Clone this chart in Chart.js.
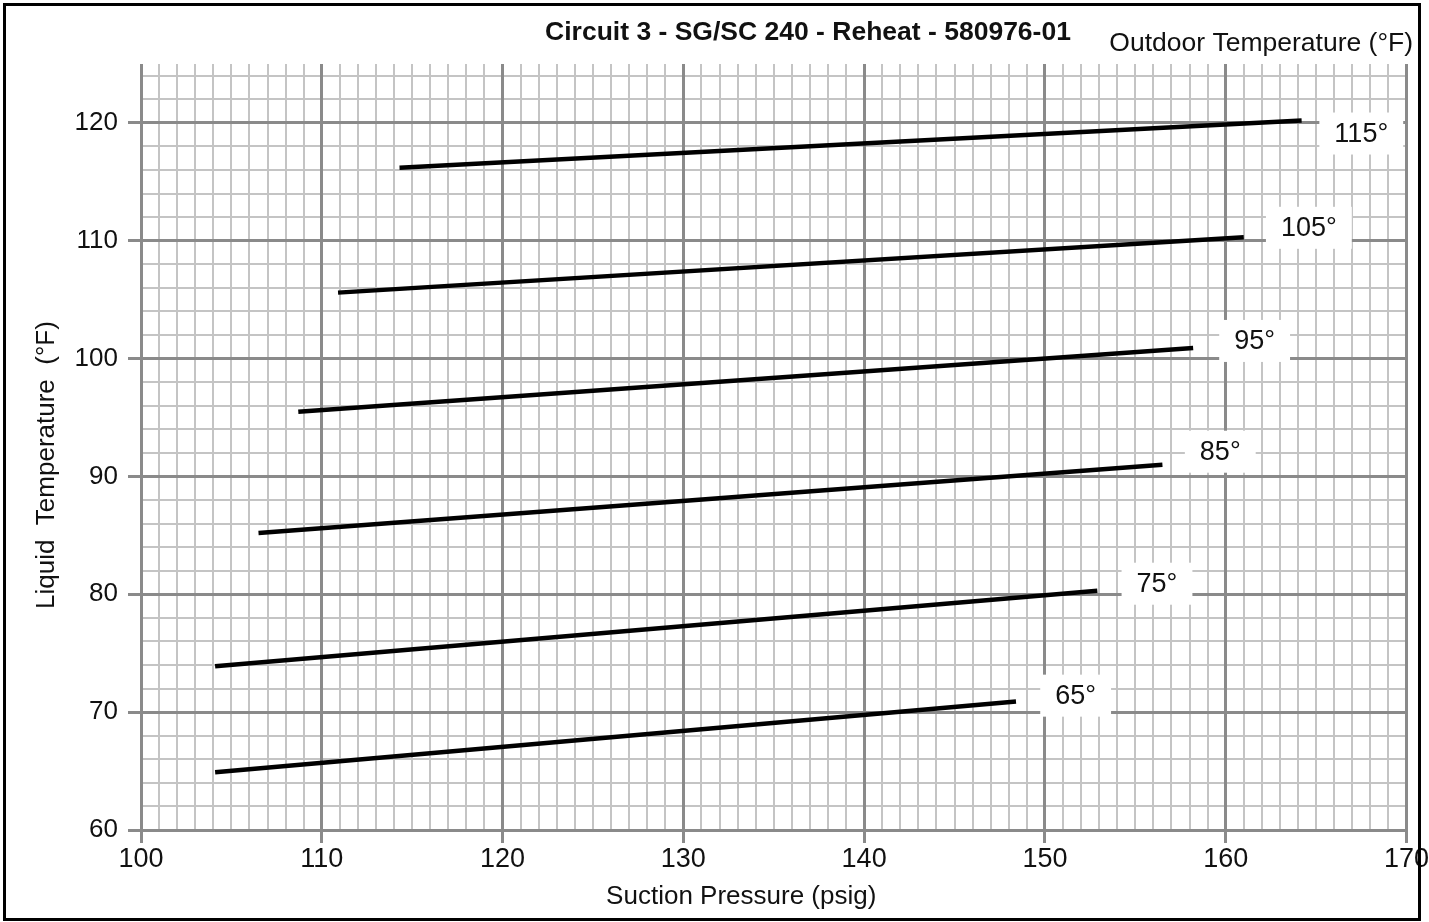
<!DOCTYPE html>
<html>
<head>
<meta charset="utf-8">
<script src="https://cdn.jsdelivr.net/npm/chart.js@4/dist/chart.umd.min.js"></script>
<style>
  html, body { margin: 0; padding: 0; background: #fff; }
  #wrap { width: 1429px; height: 922px; }
</style>
</head>
<body>
<div id="wrap"><canvas id="graficoCircuito"></canvas></div>
<script>
// Temperaturas exteriores (una linea por cada una)
const temperaturas = ['65°', '75°', '85°', '95°', '105°', '115°'];

// Presion de succion (psig) inicio / fin de cada linea
const presionInicio = [104.1, 104.1, 106.5, 108.7, 110.9, 114.3];
const presionFin    = [148.4, 152.9, 156.5, 158.2, 161.0, 164.2];

// Temperatura de liquido (°F) inicio / fin
const liquidoInicio = [64.9, 73.9, 85.2, 95.5, 105.6, 116.2];
const liquidoFin    = [70.9, 80.3, 91.0, 100.9, 110.3, 120.2];

// Posicion de las etiquetas (en unidades de datos)
const etiquetaX = [151.7, 156.2, 159.7, 161.6, 164.6, 167.5];
const etiquetaY = [71.4, 80.9, 92.1, 101.5, 111.1, 119.1];

const tituloGrafico = 'Circuit 3 - SG/SC 240 - Reheat - 580976-01';
const tituloLeyenda = 'Outdoor Temperature (°F)';

const fuente = "'Liberation Sans', Arial, sans-serif";
const colorMayor = '#8a8a8a';
const colorMenor = '#c4c4c4';

const datasets = temperaturas.map((t, i) => ({
    label: t,
    data: [
        { x: presionInicio[i], y: liquidoInicio[i] },
        { x: presionFin[i], y: liquidoFin[i] }
    ],
    borderColor: '#000',
    borderWidth: 4.5,
    pointRadius: 0,
    fill: false,
    tension: 0,
    borderCapStyle: 'butt'
}));

// Fondo, marco, titulos y etiquetas de temperatura
const pluginDecoracion = {
    id: 'decoracion',
    beforeDraw(chart) {
        const c = chart.ctx;
        c.save();
        c.fillStyle = '#fff';
        c.fillRect(0, 0, chart.width, chart.height);
        c.restore();
    },
    afterDatasetsDraw(chart) {
        const c = chart.ctx;
        const sx = chart.scales.x;
        const sy = chart.scales.y;
        c.save();
        c.font = '27px ' + fuente;
        c.textAlign = 'center';
        c.textBaseline = 'middle';
        temperaturas.forEach((t, i) => {
            const px = sx.getPixelForValue(etiquetaX[i]);
            const py = sy.getPixelForValue(etiquetaY[i]);
            const w = c.measureText(t).width + 30;
            c.fillStyle = '#fff';
            c.fillRect(px - w / 2, py - 21, w, 42);
            c.fillStyle = '#111';
            c.fillText(t, px, py + 1);
        });

        c.fillStyle = '#111';
        c.font = 'bold 26.5px ' + fuente;
        c.textAlign = 'center';
        c.textBaseline = 'middle';
        c.fillText(tituloGrafico, 808, 33);

        c.font = '26.5px ' + fuente;
        c.textAlign = 'right';
        c.fillText(tituloLeyenda, 1413, 44);

        c.strokeStyle = '#000';
        c.lineWidth = 3;
        c.strokeRect(4.5, 4.5, chart.width - 14, chart.height - 7);
        c.restore();
    }
};

const ctx = document.getElementById('graficoCircuito').getContext('2d');
const grafico = new Chart(ctx, {
    type: 'line',
    data: { datasets: datasets },
    options: {
        responsive: true,
        maintainAspectRatio: false,
        animation: false,
        layout: { padding: { top: 64, right: 21, left: 0, bottom: 0 } },
        plugins: {
            legend: { display: false },
            tooltip: { enabled: false }
        },
        scales: {
            xm: {
                type: 'linear',
                position: 'bottom',
                min: 100, max: 170,
                z: -1,
                ticks: { display: false, stepSize: 1 },
                grid: { color: colorMenor, lineWidth: 2, drawTicks: false },
                border: { display: false },
                afterFit: s => { s.height = 0; }
            },
            ym: {
                type: 'linear',
                position: 'left',
                min: 60, max: 125,
                z: -1,
                ticks: { display: false, stepSize: 2, includeBounds: false },
                grid: { color: colorMenor, lineWidth: 2, drawTicks: false },
                border: { display: false },
                afterFit: s => { s.width = 0; }
            },
            x: {
                type: 'linear',
                position: 'bottom',
                min: 100, max: 170,
                ticks: {
                    stepSize: 10,
                    color: '#111',
                    padding: 0,
                    font: { family: fuente, size: 27 }
                },
                grid: { color: colorMayor, lineWidth: 3, tickLength: 13, tickColor: colorMayor, tickWidth: 3 },
                border: { display: false },
                title: {
                    display: true,
                    // espacios al final para correr el titulo a la izquierda como en el original
                    text: 'Suction Pressure (psig)         ',
                    color: '#111',
                    padding: { top: 0, bottom: 10 },
                    font: { family: fuente, size: 26, lineHeight: 1.2 }
                },
                afterFit: s => { s.height = 92; }
            },
            y: {
                type: 'linear',
                position: 'left',
                min: 60, max: 125,
                ticks: {
                    stepSize: 10,
                    includeBounds: false,
                    color: '#111',
                    padding: 10,
                    font: { family: fuente, size: 26 }
                },
                grid: { color: colorMayor, lineWidth: 3, tickLength: 13, tickColor: colorMayor, tickWidth: 3 },
                border: { display: false },
                title: {
                    display: true,
                    text: 'Liquid  Temperature  (°F)     ',
                    color: '#111',
                    padding: { top: 31, bottom: 0 },
                    font: { family: fuente, size: 26, lineHeight: 1.2 }
                },
                afterFit: s => { s.width = 141; }
            }
        }
    },
    plugins: [pluginDecoracion]
});
</script>
</body>
</html>
